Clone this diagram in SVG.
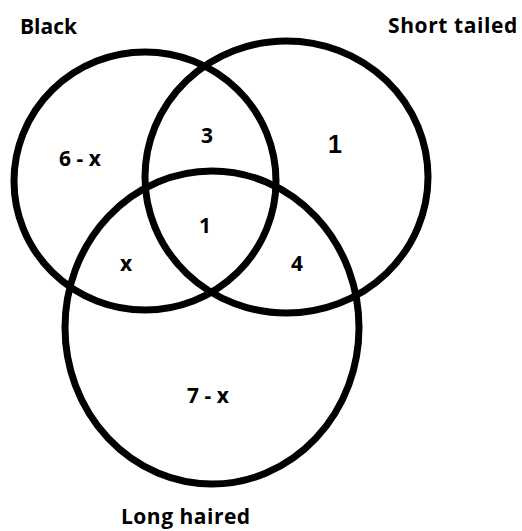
<svg xmlns="http://www.w3.org/2000/svg" width="522" height="531" viewBox="0 0 522 531">
<style>
.set{fill:none;stroke:#000;stroke-width:7}
.lbl{font-family:"Open Sans","DejaVu Sans",sans-serif;font-weight:bold;font-size:21px;fill:#000}
.big{font-family:"Liberation Sans",Arial,sans-serif;font-weight:bold;font-size:25px;fill:#000}
</style>
<rect width="522" height="531" fill="#fff"/>
<g id="black">
<ellipse class="set" cx="145" cy="181" rx="131" ry="129"/>
<text class="lbl" x="20" y="34">Black</text>
</g>
<g id="short-tailed">
<ellipse class="set" cx="286.5" cy="177" rx="141.5" ry="136"/>
<text class="lbl" x="388" y="33" letter-spacing="0.6">Short tailed</text>
</g>
<g id="long-haired">
<ellipse class="set" cx="212" cy="327.5" rx="147" ry="156.5"/>
<text class="lbl" x="121" y="524" letter-spacing="0.5">Long haired</text>
</g>
<g id="regions">
<text class="lbl" x="59" y="166">6 - x</text>
<text class="lbl" x="201" y="143">3</text>
<text class="big" x="328" y="153">1</text>
<text class="lbl" x="199" y="233">1</text>
<text class="lbl" x="120" y="271">x</text>
<text class="lbl" x="291" y="271">4</text>
<text class="lbl" x="187" y="403">7 - x</text>
</g>
<g id="connectors"/>
</svg>
